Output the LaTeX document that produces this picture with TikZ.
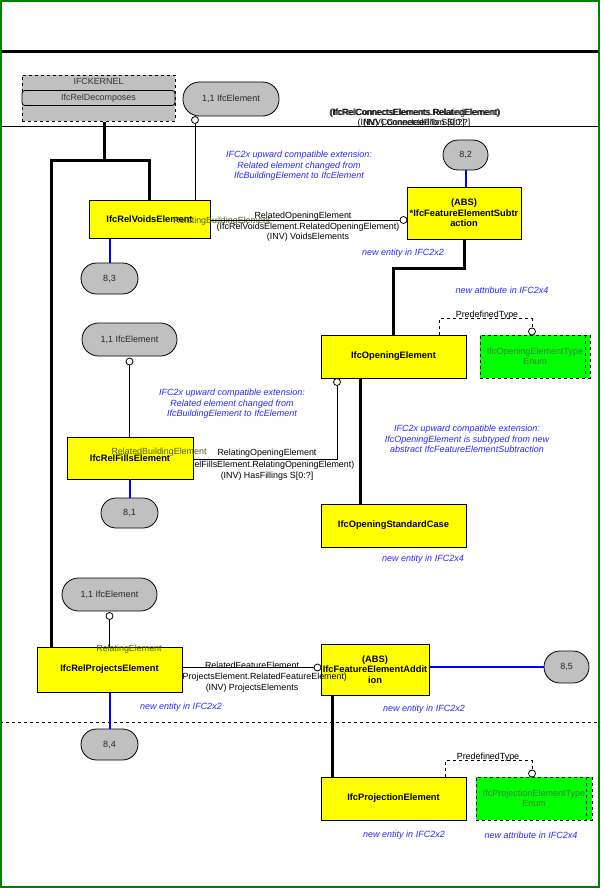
\documentclass[tikz,border=0pt]{standalone}
\usepackage{fontspec}
\setmainfont{Liberation Sans}
\usetikzlibrary{calc}
\definecolor{ifcyellow}{RGB}{255,255,0}
\definecolor{ifcgrey}{RGB}{192,192,192}
\definecolor{ifcgreen}{RGB}{0,255,0}
\definecolor{framegreen}{RGB}{0,128,0}
\definecolor{notecol}{RGB}{40,40,255}
\definecolor{enumtext}{RGB}{70,125,70}
\definecolor{overlbl}{RGB}{80,95,20}
\definecolor{relblue}{RGB}{0,0,255}
\begin{document}
\begin{tikzpicture}[x=1pt,y=-1pt,
  entity/.style={draw=black, line width=0.8pt, fill=ifcyellow, inner sep=0pt, align=center,
    font=\fontsize{9.3}{10.6}\selectfont\bfseries},
  stad/.style={draw=black, line width=0.8pt, fill=ifcgrey, inner sep=0pt,
    font=\fontsize{9}{10}\selectfont, text=black!85},
  enumbox/.style={draw=black, dashed, line width=0.8pt, fill=ifcgreen, inner sep=0pt, align=center,
    font=\fontsize{9}{10.5}\selectfont, text=enumtext},
  lbl/.style={inner sep=0pt, font=\fontsize{8.9}{10}\selectfont, text=black},
  olbl/.style={inner sep=0pt, font=\fontsize{8.9}{10}\selectfont, text=overlbl},
  note/.style={inner sep=0pt, align=center, font=\fontsize{9}{10.5}\selectfont\itshape, text=notecol},
  ring/.style={circle, draw=black, fill=white, line width=0.8pt, minimum size=7pt, inner sep=0pt},
  inh/.style={line width=3pt, black},
  rel/.style={line width=0.8pt, black},
  blueline/.style={line width=2pt, relblue},
  dashrel/.style={line width=0.8pt, black, dashed}]

\useasboundingbox (0,0) rectangle (600,888);
\fill[white] (0,0) rectangle (600,888);

% frame and separators
\draw[line width=3pt] (0,51.5) -- (600,51.5);
\draw[line width=0.8pt] (0,126) -- (600,126);
\draw[line width=0.8pt, dashed] (0,722) -- (600,722);
\draw[framegreen, line width=2pt] (1,1) rectangle (598.5,886.5);

% ---------- top area ----------
\node[draw=black, dashed, line width=0.8pt, fill=ifcgrey, minimum width=153pt, minimum height=46pt, inner sep=0pt] (kernel) at (98.5,98.5) {};
\node[lbl, text=black!80] (kerneltitle) at (98.5,81.5) {IFCKERNEL};
\node[draw=black, line width=0.8pt, fill=ifcgrey, rounded corners=3pt, minimum width=153pt, minimum height=15pt, inner sep=0pt, font=\fontsize{8.9}{10}\selectfont, text=black!80] (decomp) at (98.5,98) {IfcRelDecomposes};

\node[stad, rounded corners=16.5pt, minimum width=96pt, minimum height=34pt] (e1) at (231,99) {1,1 IfcElement};
\node[ring] (c1) at (195,120) {};

\node[lbl] (t1) at (415,113) {(IfcRelConnectsElements.RelatingElement)};
\node[lbl] (t1b) at (415,113) {(IfcRelConnectsElements.RelatedElement)};
\node[lbl] (t2) at (414,123.5) {(INV) ConnectedTo S[0:?]};
\node[lbl] (t2b) at (414,123.5) {(INV) ConnectedFrom S[0:?]};

% ---------- voids ----------
\node[entity, minimum width=121pt, minimum height=38pt] (voids) at (149.5,219) {IfcRelVoidsElement};
\node[olbl] (l4) at (222,221) {RelatingBuildingElement};

\coordinate (jk) at (104,161);
\draw[inh] ([xshift=5.5pt]kernel.south) -- (jk);
\draw[inh] (voids.north) -- ++(0,-39) -| (51,647);
\draw[rel] (c1.south) -- (c1.south |- voids.north);

\node[note] (n1) at (299,166) {IFC2x upward compatible extension:\\Related element changed from\\IfcBuildingElement to IfcElement};

\node[stad, rounded corners=15pt, minimum width=45pt, minimum height=30pt] (s82) at (465.5,155) {8,2};
\node[entity, minimum width=114pt, minimum height=52pt] (sub) at (464,213) {(ABS)\\*IfcFeatureElementSubtr\\action};
\draw[blueline] (s82.south) -- (s82.south |- sub.north);

\node[ring] (c2) at (403.5,220) {};
\draw[rel] (voids.east |- c2.west) -- (c2.west);
\node[lbl] (l1) at (303,216) {RelatedOpeningElement};
\node[lbl] (l2) at (308,227) {(IfcRelVoidsElement.RelatedOpeningElement)};
\node[lbl] (l3) at (308,237.5) {(INV) VoidsElements};
\node[note] (n2) at (403,253) {new entity in IFC2x2};

\node[stad, rounded corners=15.5pt, minimum width=57pt, minimum height=31pt] (s83) at (109.5,278.5) {8,3};
\draw[blueline] (s83.north |- voids.south) -- (s83.north);

% ---------- opening ----------
\node[entity, minimum width=145pt, minimum height=43pt] (opening) at (393.5,356.5) {IfcOpeningElement};
\draw[inh] (sub.south) -- ++(0,29) -| (opening.north);
\node[note] (n3) at (502,290) {new attribute in IFC2x4};

\node[enumbox, minimum width=110pt, minimum height=43pt] (enum1) at (535,356.5) {IfcOpeningElementType\\Enum};
\draw[dashrel] ([xshift=-5pt]enum1.north east) -- ([xshift=-5pt]enum1.south east);
\node[ring] (c3) at (532,331.5) {};
\draw[dashrel] ([xshift=45.5pt]opening.north) -- ++(0,-16) -| (c3.north);
\node[lbl] (pt1) at (487,315.5) {PredefinedType};

\node[note] (n5) at (467,439) {IFC2x upward compatible extension:\\IfcOpeningElement is subtyped from new\\abstract IfcFeatureElementSubtraction};

\node[entity, minimum width=145pt, minimum height=43pt] (standard) at (393.5,525.5) {IfcOpeningStandardCase};
\draw[inh] ([xshift=-33.5pt]opening.south) -- ([xshift=-33.5pt]standard.north);
\node[note] (n4) at (423,559) {new entity in IFC2x4};

% ---------- fills ----------
\node[stad, rounded corners=16.5pt, minimum width=95pt, minimum height=33pt] (e2) at (129.5,339.5) {1,1 IfcElement};
\node[ring] (c5) at (129.5,361.5) {};
\node[note] (n6) at (232,404) {IFC2x upward compatible extension:\\Related element changed from\\IfcBuildingElement to IfcElement};

\node[lbl] (lf2) at (265,465.5) {(IfcRelFillsElement.RelatingOpeningElement)};
\node[entity, minimum width=126pt, minimum height=42pt] (fills) at (130,458) {IfcRelFillsElement};
\node[olbl] (lf4) at (159,452.5) {RelatedBuildingElement};
\node[ring] (c4) at (337,382) {};
\draw[rel] (c4.south) |- ([yshift=-1pt]fills.east);
\draw[rel] (c5.south) -- (c5.south |- fills.north);
\node[lbl] (lf1) at (267,453.5) {RelatingOpeningElement};
\node[lbl] (lf3) at (267,476) {(INV) HasFillings S[0:?]};

\node[stad, rounded corners=15pt, minimum width=57pt, minimum height=30pt] (s81) at (129.5,513) {8,1};
\draw[blueline] (s81.north |- fills.south) -- (s81.north);

% ---------- projects ----------
\node[stad, rounded corners=16.5pt, minimum width=95pt, minimum height=33pt] (e3) at (109.5,594.5) {1,1 IfcElement};
\node[ring] (c6) at (109.5,616) {};

\node[entity, minimum width=108pt, minimum height=51pt] (add) at (375,669.5) {(ABS)\\IfcFeatureElementAddit\\ion};
\node[lbl] (lp2) at (252,677) {(IfcRelProjectsElement.RelatedFeatureElement)};
\node[entity, minimum width=145pt, minimum height=45pt] (projects) at (109.5,669.5) {IfcRelProjectsElement};
\node[olbl] (lp4) at (129,649) {RelatingElement};
\draw[rel] (c6.south) -- (projects.north);

\node[ring] (c7) at (317.5,667.5) {};
\draw[rel] (projects.east |- c7.west) -- (c7.west);
\node[lbl] (lp1) at (252,665) {RelatedFeatureElement};
\node[lbl] (lp3) at (252,688) {(INV) ProjectsElements};
\node[note] (n8) at (181,707) {new entity in IFC2x2};

\node[stad, rounded corners=16pt, minimum width=45pt, minimum height=32pt] (s85) at (566.5,667) {8,5};
\draw[blueline] (add.east |- s85.west) -- (s85.west);
\node[note] (n7) at (424,709) {new entity in IFC2x2};

\node[stad, rounded corners=15.5pt, minimum width=57pt, minimum height=31pt] (s84) at (109.5,744.5) {8,4};
\draw[blueline] (projects.south) -- (s84.north);

% ---------- projection ----------
\node[entity, minimum width=145pt, minimum height=43pt] (projection) at (393.5,798.5) {IfcProjectionElement};
\draw[inh] ([xshift=-43pt]add.south) -- ([xshift=-43pt]add.south |- projection.north);

\node[enumbox, minimum width=116pt, minimum height=43pt] (enum2) at (534,798.5) {IfcProjectionElementType\\Enum};
\draw[dashrel] ([xshift=-6pt]enum2.north east) -- ([xshift=-6pt]enum2.south east);
\node[ring] (c8) at (532,773.5) {};
\draw[dashrel] ([xshift=51.5pt]projection.north) -- ++(0,-16) -| (c8.north);
\node[lbl] (pt2) at (488,757) {PredefinedType};

\node[note] (n9) at (404,835) {new entity in IFC2x2};
\node[note] (n10) at (531,835) {new attribute in IFC2x4};

\end{tikzpicture}
\end{document}
